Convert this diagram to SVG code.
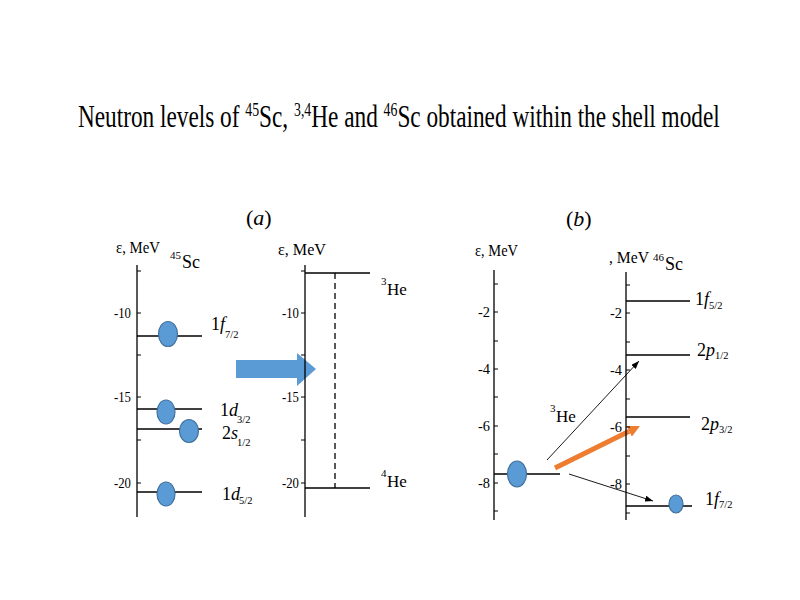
<svg xmlns="http://www.w3.org/2000/svg" width="800" height="600" viewBox="0 0 800 600">
<defs>
<style>
text{font-family:"Liberation Serif","Times New Roman",serif;fill:#000}
.ax{stroke:#000;stroke-width:1.3;fill:none}
.lv{stroke:#000;stroke-width:1.6;fill:none}
.tk{stroke:#000;stroke-width:1;fill:none}
.tl{font-size:15px;text-anchor:end}
.al{font-size:17.5px}
.ll{font-size:18px}
.sub{font-size:10.5px}
.sup{font-size:11px}
.dot{fill:#5B9BD5;stroke:#41719C;stroke-width:1.2}
.thin{stroke:#000;stroke-width:0.9;fill:none}
</style>
<marker id="ah" viewBox="0 0 8 6" refX="8" refY="3" markerWidth="8" markerHeight="6" markerUnits="userSpaceOnUse" orient="auto"><path d="M0,0 L8,3 L0,6 z" fill="#000"/></marker>
<marker id="oh" viewBox="0 0 12 12" refX="0" refY="6" markerWidth="12" markerHeight="12" markerUnits="userSpaceOnUse" orient="auto"><path d="M0,0 L12,6 L0,12 z" fill="#ED7D31"/></marker>
</defs>
<rect width="800" height="600" fill="#fff"/>

<text transform="translate(78,127) scale(0.727,1)" x="0" y="0" font-size="32">Neutron levels of <tspan font-size="19" dy="-11">45</tspan><tspan dy="11">Sc, </tspan><tspan font-size="19" dy="-11">3,4</tspan><tspan dy="11">He and </tspan><tspan font-size="19" dy="-11">46</tspan><tspan dy="11">Sc obtained within the shell model</tspan></text>

<text x="246" y="225" font-size="22">(<tspan font-style="italic">a</tspan>)</text>
<text x="566" y="226" font-size="22">(<tspan font-style="italic">b</tspan>)</text>

<g id="axis-a1">
<line class="ax" x1="137" y1="265" x2="137" y2="517"/>
<path class="tk" d="M137,271h4M137,313h4M137,355h4M137,397h4M137,440h4M137,483h4"/>
<text class="tl" x="131" y="318" textLength="17" lengthAdjust="spacingAndGlyphs">-10</text>
<text class="tl" x="131" y="402" textLength="17" lengthAdjust="spacingAndGlyphs">-15</text>
<text class="tl" x="131" y="488" textLength="17" lengthAdjust="spacingAndGlyphs">-20</text>
<text class="al" x="116" y="253" textLength="44" lengthAdjust="spacingAndGlyphs">ε, MeV</text>
<text x="170" y="259" class="sup">45</text><text x="182" y="268" font-size="18">Sc</text>
</g>

<g id="level-1f72-a">
<line class="lv" x1="137" y1="336" x2="202" y2="336"/>
<ellipse class="dot" cx="168" cy="334" rx="9.5" ry="12.5"/>
<text class="ll" x="211" y="330">1<tspan font-style="italic">f</tspan><tspan class="sub" dy="8">7/2</tspan></text>
</g>
<g id="level-1d32-a">
<line class="lv" x1="137" y1="409" x2="202" y2="409"/>
<ellipse class="dot" cx="166" cy="412" rx="9" ry="12"/>
<text class="ll" x="220" y="416">1<tspan font-style="italic">d</tspan><tspan class="sub" dx="-1" dy="7">3/2</tspan></text>
</g>
<g id="level-2s12-a">
<line class="lv" x1="137" y1="429" x2="202" y2="429"/>
<ellipse class="dot" cx="189" cy="431" rx="9.5" ry="11.5"/>
<text class="ll" x="222" y="439">2<tspan font-style="italic">s</tspan><tspan class="sub" dx="-1" dy="7">1/2</tspan></text>
</g>
<g id="level-1d52-a">
<line class="lv" x1="137" y1="492" x2="202" y2="492"/>
<ellipse class="dot" cx="166" cy="494" rx="9" ry="12"/>
<text class="ll" x="222" y="500">1<tspan font-style="italic">d</tspan><tspan class="sub" dx="-1" dy="4">5/2</tspan></text>
</g>

<g id="big-arrow">
<polygon points="236,360 297,360 297,353 316,369 297,386 297,378 236,378" fill="#5B9BD5"/>
</g>

<g id="axis-a2">
<line class="ax" x1="305" y1="265" x2="305" y2="517"/>
<path class="tk" d="M301,271h4M301,313h4M301,355h4M301,397h4M301,440h4M301,483h4"/>
<text class="tl" x="299" y="318" textLength="17" lengthAdjust="spacingAndGlyphs">-10</text>
<text class="tl" x="299" y="402" textLength="17" lengthAdjust="spacingAndGlyphs">-15</text>
<text class="tl" x="299" y="488" textLength="17" lengthAdjust="spacingAndGlyphs">-20</text>
<text class="al" x="278" y="255" textLength="48" lengthAdjust="spacingAndGlyphs">ε, MeV</text>
</g>
<g id="he3-a">
<line class="lv" x1="305" y1="273" x2="370" y2="273"/>
<text x="381" y="285" class="sup">3</text><text x="387" y="295" font-size="17">He</text>
</g>
<g id="he4-a">
<line class="lv" x1="305" y1="488" x2="370" y2="488"/>
<text x="381" y="477" class="sup">4</text><text x="387" y="487" font-size="17">He</text>
</g>
<g id="connectors">
<line x1="335" y1="273" x2="335" y2="488" stroke="#000" stroke-width="1.3" stroke-dasharray="6,4"/>
<line class="thin" x1="547" y1="460" x2="639" y2="361" marker-end="url(#ah)"/>
<line class="thin" x1="569" y1="474" x2="653" y2="501" marker-end="url(#ah)"/>
<line x1="555" y1="468" x2="629.2" y2="431.3" stroke="#ED7D31" stroke-width="5" marker-end="url(#oh)"/>
</g>

<g id="axis-b1">
<line class="ax" x1="494" y1="270" x2="494" y2="520"/>
<path class="tk" d="M494,284h4M494,312h4M494,341h4M494,369h4M494,397h4M494,426h4M494,454h4M494,483h4M494,511h4"/>
<text class="tl" x="490" y="317" textLength="12" lengthAdjust="spacingAndGlyphs">-2</text>
<text class="tl" x="490" y="374" textLength="12" lengthAdjust="spacingAndGlyphs">-4</text>
<text class="tl" x="490" y="431" textLength="12" lengthAdjust="spacingAndGlyphs">-6</text>
<text class="tl" x="490" y="488" textLength="12" lengthAdjust="spacingAndGlyphs">-8</text>
<text class="al" x="475" y="256" textLength="43" lengthAdjust="spacingAndGlyphs">ε, MeV</text>
</g>
<g id="level-he3-b">
<line class="lv" x1="494" y1="474" x2="560" y2="474"/>
<ellipse class="dot" cx="517" cy="474" rx="9.5" ry="13"/>
<text x="550" y="412" class="sup">3</text><text x="556" y="422" font-size="17">He</text>
</g>

<g id="axis-b2">
<line class="ax" x1="626" y1="272" x2="626" y2="520"/>
<path class="tk" d="M626,285h4M626,313h4M626,342h4M626,370h4M626,399h4M626,427h4M626,456h4M626,484h4M626,513h4"/>
<text class="tl" x="622" y="318" textLength="12" lengthAdjust="spacingAndGlyphs">-2</text>
<text class="tl" x="622" y="375" textLength="12" lengthAdjust="spacingAndGlyphs">-4</text>
<text class="tl" x="622" y="432" textLength="12" lengthAdjust="spacingAndGlyphs">-6</text>
<text class="tl" x="622" y="489" textLength="12" lengthAdjust="spacingAndGlyphs">-8</text>
<text class="al" x="609" y="263" textLength="40" lengthAdjust="spacingAndGlyphs">, MeV</text>
<text x="653" y="261" class="sup">46</text><text x="665" y="270" font-size="18">Sc</text>
</g>
<g id="level-1f52-b">
<line class="lv" x1="626" y1="301" x2="690" y2="301"/>
<text class="ll" x="695" y="305">1<tspan font-style="italic">f</tspan><tspan class="sub" dy="4">5/2</tspan></text>
</g>
<g id="level-2p12-b">
<line class="lv" x1="626" y1="355" x2="690" y2="355"/>
<text class="ll" x="697" y="356">2<tspan font-style="italic">p</tspan><tspan class="sub" dy="3">1/2</tspan></text>
</g>
<g id="level-2p32-b">
<line class="lv" x1="626" y1="417" x2="690" y2="417"/>
<text class="ll" x="701" y="430">2<tspan font-style="italic">p</tspan><tspan class="sub" dy="3">3/2</tspan></text>
</g>
<g id="level-1f72-b">
<line class="lv" x1="626" y1="506" x2="692" y2="506"/>
<ellipse class="dot" cx="676" cy="504" rx="7" ry="9"/>
<text class="ll" x="705" y="505">1<tspan font-style="italic">f</tspan><tspan class="sub" dy="3">7/2</tspan></text>
</g>
</svg>
